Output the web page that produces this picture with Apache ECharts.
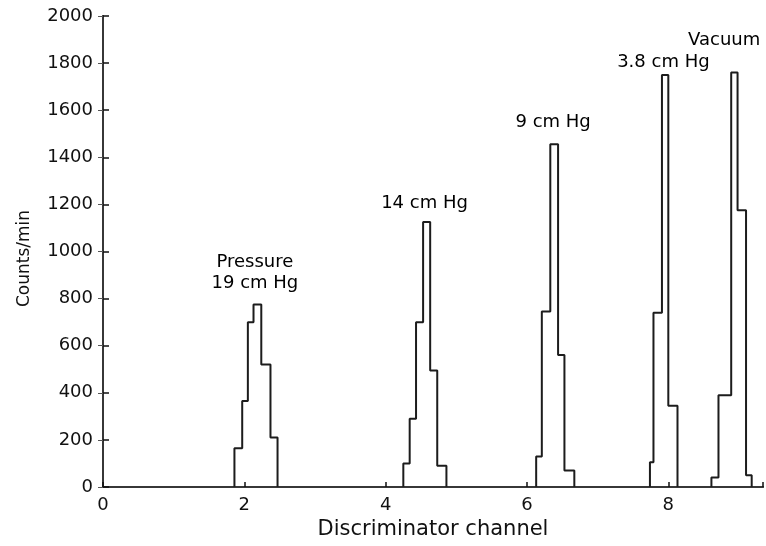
<!DOCTYPE html>
<html>
<head>
<meta charset="utf-8">
<script src="https://cdn.jsdelivr.net/npm/echarts@6/dist/echarts.min.js"></script>
<style>
  html, body { margin: 0; padding: 0; background: #fff; }
  #chart { width: 766px; height: 546px; }
</style>
</head>
<body>
<div id="chart"></div>
<script>
// Pulse-height spectra: counts per minute in each discriminator channel bin,
// one histogram per gas pressure.
const xTicks = [0, 2, 4, 6, 8];
const yTicks = [0, 200, 400, 600, 800, 1000, 1200, 1400, 1600, 1800, 2000];

const edges19 = [1.86, 1.97, 2.05, 2.13, 2.24, 2.37, 2.47];
const counts19 = [165, 365, 700, 775, 520, 210];

const edges14 = [4.25, 4.34, 4.43, 4.53, 4.63, 4.73, 4.86];
const counts14 = [100, 290, 700, 1125, 495, 90];

const edges9 = [6.13, 6.21, 6.33, 6.44, 6.53, 6.67];
const counts9 = [130, 745, 1455, 560, 70];

const edges38 = [7.74, 7.79, 7.91, 8.0, 8.13];
const counts38 = [105, 740, 1750, 345];

const edgesVac = [8.61, 8.71, 8.89, 8.98, 9.1, 9.18];
const countsVac = [40, 390, 1760, 1175, 50];

const peakNames = ['19 cm Hg', '14 cm Hg', '9 cm Hg', '3.8 cm Hg', 'Vacuum'];

const FONT = 'DejaVu Sans';
const INK = '#111111';

// Outline of a histogram: rise at the first edge, one flat top per bin, drop at the last edge.
function outline(edges, counts) {
  const pts = [[edges[0], 0]];
  counts.forEach((c, i) => pts.push([edges[i], c]));
  pts.push([edges[edges.length - 1], 0]);
  return pts;
}

const peaks = [
  [edges19, counts19],
  [edges14, counts14],
  [edges9, counts9],
  [edges38, counts38],
  [edgesVac, countsVac]
];

const histSeries = peaks.map((p, i) => ({
  name: peakNames[i],
  type: 'line',
  step: 'end',
  xAxisIndex: 0,
  yAxisIndex: 0,
  showSymbol: false,
  silent: true,
  lineStyle: { color: '#1c1c1c', width: 2 },
  data: outline(p[0], p[1])
}));

// Pressure captions written beside each peak.
const captions = [
  { text: 'Pressure\n19 cm Hg', at: [2.15, 911] },
  { text: '14 cm Hg', at: [4.55, 1206] },
  { text: '9 cm Hg', at: [6.37, 1550] },
  { text: '3.8 cm Hg', at: [7.93, 1805] },
  { text: 'Vacuum', at: [8.79, 1898] }
];

const captionSeries = {
  type: 'scatter',
  xAxisIndex: 0,
  yAxisIndex: 0,
  symbolSize: 0,
  silent: true,
  itemStyle: { color: '#000', opacity: 1 },
  label: {
    show: true,
    position: 'top',
    distance: 0,
    align: 'center',
    verticalAlign: 'middle',
    formatter: p => p.data.name,
    fontFamily: FONT,
    fontSize: 18,
    lineHeight: 21,
    color: '#000',
    textBorderWidth: 0
  },
  data: captions.map(c => ({ name: c.text, value: c.at }))
};

const xMax = 9.34;

const option = {
  animation: false,
  backgroundColor: '#ffffff',
  grid: { left: 103, right: -2, top: 16, bottom: 59, containLabel: false },
  xAxis: [
    {
      type: 'value',
      position: 'bottom',
      min: xTicks[0],
      max: xMax,
      interval: 2,
      name: 'Discriminator channel',
      nameLocation: 'middle',
      nameGap: 26,
      nameTextStyle: { fontFamily: FONT, fontSize: 21, color: INK },
      axisLine: { show: true, lineStyle: { color: INK, width: 2 } },
      axisTick: { show: true, inside: true, length: 5, lineStyle: { color: INK, width: 1.5 } },
      axisLabel: {
        fontFamily: FONT, fontSize: 18, color: INK, margin: 9,
        formatter: v => (xTicks.indexOf(v) >= 0 ? String(v) : '')
      },
      splitLine: { show: false }
    },
    {
      type: 'value',
      position: 'top',
      min: xTicks[0],
      max: xMax,
      interval: 2,
      axisLine: { show: true, lineStyle: { color: '#444', width: 1.5 } },
      axisTick: { show: false },
      axisLabel: { show: false },
      splitLine: { show: false }
    }
  ],
  yAxis: [
    {
      type: 'value',
      position: 'left',
      min: yTicks[0],
      max: yTicks[yTicks.length - 1],
      interval: 200,
      name: 'Counts/min',
      nameLocation: 'middle',
      nameGap: 70,
      nameRotate: 90,
      nameTextStyle: { fontFamily: FONT, fontSize: 17, color: INK, padding: [0, 14, 0, 0] },
      axisLine: { show: true, lineStyle: { color: INK, width: 2 } },
      axisTick: { show: true, inside: true, length: 6, lineStyle: { color: INK, width: 1.5 } },
      axisLabel: { fontFamily: FONT, fontSize: 18, color: INK, margin: 10, formatter: v => String(v) },
      splitLine: { show: false }
    },
    {
      type: 'value',
      position: 'right',
      min: yTicks[0],
      max: yTicks[yTicks.length - 1],
      interval: 200,
      axisLine: { show: true, lineStyle: { color: '#444', width: 1.5 } },
      axisTick: { show: true, inside: true, length: 5, lineStyle: { color: '#555', width: 1 } },
      axisLabel: { show: false },
      splitLine: { show: false }
    }
  ],
  series: histSeries.concat([captionSeries])
};

const chart = echarts.init(document.getElementById('chart'), null, { renderer: 'canvas' });
chart.setOption(option);
</script>
</body>
</html>
